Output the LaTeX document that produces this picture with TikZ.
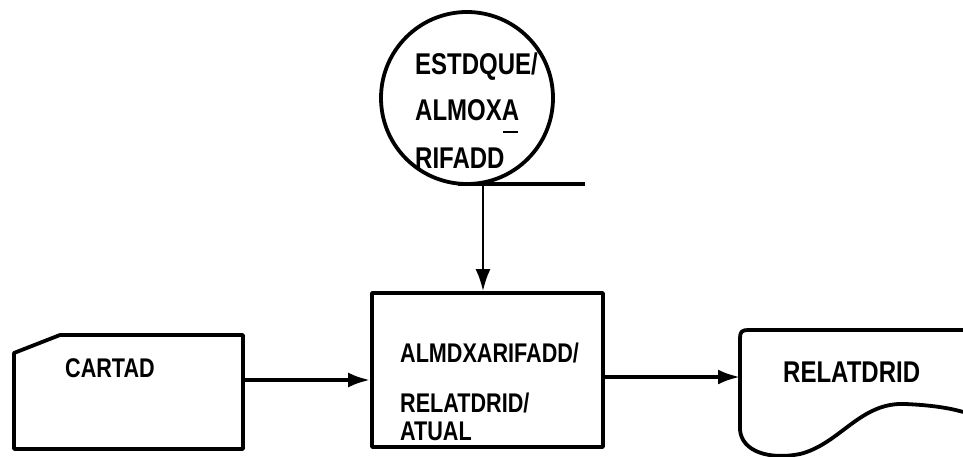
\documentclass[tikz,border=0pt]{standalone}
\usepackage{fontspec}
\setmainfont[FakeStretch=0.8]{Liberation Sans}
\usetikzlibrary{arrows.meta}
\tikzset{
  shapeline/.style={line width=3.8pt, line join=round},
  flow/.style={line width=3.6pt, -{Latex[length=22pt,width=15pt]}},
  lbl/.style={anchor=base west, inner sep=0pt, font=\fontsize{27}{27}\selectfont\bfseries},
  biglbl/.style={anchor=base west, inner sep=0pt, font=\fontsize{30}{30}\selectfont\bfseries},
}
\begin{document}
\begin{tikzpicture}[x=1pt,y=-1pt]
\useasboundingbox (0,0) rectangle (963,457);
% on-line store (circle)
\node[draw, shapeline, circle, minimum size=172pt, inner sep=0pt] (store) at (467,98) {};
\draw[shapeline, line width=4.5pt] (458,184) -- (585,184);
\node[biglbl] (s1) at (415,75) {ESTDQUE/};
\node[biglbl] (s2) at (415,121) {ALMOXA};
\draw[line width=2pt] (503,132) -- (518,132);
\node[biglbl] (s3) at (415,168) {RIFADD};
\coordinate (storeout) at (483,184);
% process box
\node[draw, shapeline, minimum width=231pt, minimum height=154pt, inner sep=0pt] (proc) at (487.5,370) {};
\node[lbl] (p1) at (400,362) {ALMDXARIFADD/};
\node[lbl] (p2) at (400,412) {RELATDRID/};
\node[lbl] (p3) at (400,440) {ATUAL};
% card
\draw[shapeline] (14,353) -- (60,335) -- (243,335) -- (243,449) -- (14,449) -- cycle;
\node[lbl] (card) at (65,377) {CARTAD};
\coordinate (cardout) at (245,380);
% document
\draw[shapeline] (963,330) -- (748,330) .. controls (742,330) and (740,332) .. (740,338) -- (740,430)
  .. controls (742,452) and (770,460) .. (800,454)
  .. controls (840,444) and (860,402) .. (905,404)
  .. controls (930,405) and (950,408) .. (963,412);
\node[biglbl] (doc) at (783,382) {RELATDRID};
\coordinate (docin) at (740,377);
% connectors
\draw[flow, line width=2.4pt] (storeout) -- (storeout |- proc.north);
\draw[flow] (cardout) -- (cardout -| proc.west);
\draw[flow] (proc.east |- docin) -- (docin);
\end{tikzpicture}
\end{document}
